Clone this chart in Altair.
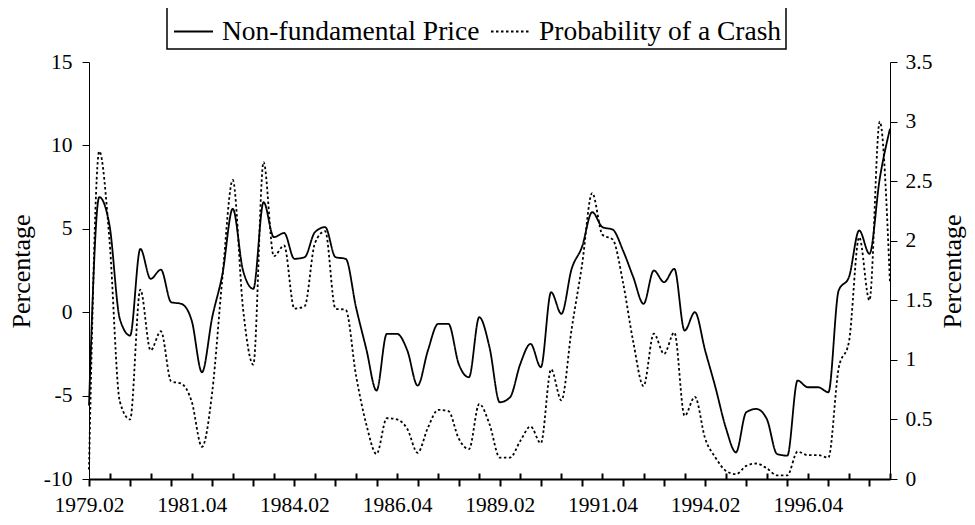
import altair as alt
import pandas as pd

# Quarterly categories 1979.02 ... 1998.04
quarters = [f"{1979 + (i + 1) // 4}.0{(i + 1) % 4 + 1}" for i in range(79)]
tick_labels = ["1979.02", "1981.04", "1984.02", "1986.04",
               "1989.02", "1991.04", "1994.02", "1996.04"]
series_names = ["Non-fundamental Price", "Probability of a Crash"]

price = [-5.6, 6.9, 5.2, -0.4, -1.4, 3.8, 2.0, 2.55, 0.6, 0.5,
         -0.5, -3.6, -0.3, 2.3, 6.2, 2.5, 1.4, 6.6, 4.5, 4.75,
         3.2, 3.3, 4.8, 5.1, 3.3, 3.2, 0.3, -2.2, -4.7, -1.3,
         -1.3, -2.3, -4.4, -2.3, -0.7, -0.7, -3.1, -3.9, -0.3, -2.1,
         -5.4, -5.1, -3.1, -1.9, -3.3, 1.2, -0.1, 2.6, 3.9, 6.0,
         5.1, 4.95, 3.7, 2.1, 0.5, 2.5, 1.8, 2.6, -1.1, 0.0,
         -2.3, -4.5, -6.9, -8.4, -6.0, -5.8, -6.4, -8.5, -8.6, -4.1,
         -4.5, -4.5, -4.8, 1.3, 2.1, 4.9, 3.5, 8.0, 11.0]

prob = [0.08, 2.75, 2.0, 0.65, 0.5, 1.59, 1.08, 1.24, 0.82, 0.8,
        0.65, 0.27, 0.73, 1.7, 2.51, 1.43, 0.96, 2.66, 1.87, 1.96,
        1.43, 1.45, 1.98, 2.08, 1.43, 1.42, 0.87, 0.46, 0.21, 0.51,
        0.5, 0.42, 0.22, 0.43, 0.58, 0.57, 0.34, 0.25, 0.63, 0.46,
        0.18, 0.18, 0.32, 0.44, 0.3, 0.92, 0.66, 1.26, 1.79, 2.4,
        2.05, 2.01, 1.65, 1.15, 0.78, 1.22, 1.05, 1.23, 0.53, 0.69,
        0.34, 0.18, 0.07, 0.04, 0.11, 0.13, 0.09, 0.03, 0.03, 0.23,
        0.2, 0.2, 0.18, 0.93, 1.15, 2.03, 1.5, 3.0, 1.64]

left_ticks = [-10, -5, 0, 5, 10, 15]
right_ticks = [0, 0.5, 1, 1.5, 2, 2.5, 3, 3.5]

n = len(quarters)
idx = list(range(n))
df_price = pd.DataFrame({"idx": idx, "quarter": quarters, "value": price,
                         "series": series_names[0]})
df_prob = pd.DataFrame({"idx": idx, "quarter": quarters, "value": prob,
                        "series": series_names[1]})

FONT = "Liberation Serif, Times New Roman, DejaVu Serif, serif"
W, H = 801, 417

label_idx = [quarters.index(t) for t in tick_labels]
down_idx = idx[0::4]
up_idx = idx[2::4]
bottom_values = sorted(set(down_idx) | set(label_idx))
label_map = "{" + ", ".join(f"'{i}': '{t}'" for i, t in zip(label_idx, tick_labels)) + "}"

x_scale = alt.Scale(domain=[0, n - 1], nice=False, zero=False)

dash_scale = alt.Scale(domain=series_names, range=[[1, 0], [2.5, 2.5]])
legend = alt.Legend(
    title=None, orient="none", legendX=78, legendY=-55, direction="horizontal",
    symbolType="stroke", symbolSize=1521, symbolStrokeWidth=2,
    symbolStrokeColor="black", symbolOffset=2, labelFont=FONT,
    labelFontSize=27.5, labelColor="black", labelLimit=400, labelOffset=8,
    columnPadding=7, padding=4, strokeColor="black",
)

common_axis = dict(grid=False, domainColor="black", tickColor="black",
                   labelColor="black", labelFont=FONT, titleFont=FONT,
                   titleColor="black", titleFontWeight="normal")

price_line = alt.Chart(df_price).mark_line(
    color="black", strokeWidth=1.8, interpolate="monotone"
).encode(
    x=alt.X("idx:Q", scale=x_scale, axis=alt.Axis(
        orient="bottom", values=bottom_values, title=None, labelAngle=0,
        labelExpr=f"{label_map}['' + datum.value] || ''",
        labelFlush=False, labelOverlap=False, labelAlign="center",
        tickSize=7, tickWidth=2, domainWidth=2, labelPadding=8,
        labelFontSize=21.5,
        tickOpacity={"condition": {"test": "datum.value % 4 == 0", "value": 1},
                     "value": 0},
        **common_axis)),
    y=alt.Y("value:Q", scale=alt.Scale(domain=[-10, 15], nice=False, zero=False),
            axis=alt.Axis(orient="left", values=left_ticks, title="Percentage",
                          labelExpr="'' + datum.value", tickSize=7, labelPadding=10,
                          labelFontSize=21.5, titleFontSize=26, titleAngle=270,
                          titleX=-68, titleY=209, titleBaseline="middle",
                          titleAlign="center", labelOverlap=False, **common_axis)),
    strokeDash=alt.StrokeDash("series:N", scale=dash_scale, legend=legend),
)

prob_line = alt.Chart(df_prob).mark_line(
    color="black", strokeWidth=1.8, interpolate="monotone"
).encode(
    x=alt.X("idx:Q", scale=x_scale, axis=alt.Axis(
        orient="top", offset=-H, values=up_idx, title=None, labels=False,
        domain=False, tickSize=6, tickWidth=2, grid=False, tickColor="black")),
    y=alt.Y("value:Q", scale=alt.Scale(domain=[0, 3.5], nice=False, zero=False),
            axis=alt.Axis(orient="right", values=right_ticks, title="Percentage",
                          labelExpr="'' + datum.value", tickSize=7, labelPadding=8,
                          labelFontSize=21.5, titleFontSize=26, titleAngle=270,
                          titleX=62, titleY=209, titleBaseline="middle",
                          titleAlign="center", labelOverlap=False, **common_axis)),
    strokeDash=alt.StrokeDash("series:N", scale=dash_scale, legend=legend),
)

chart = alt.layer(price_line, prob_line).resolve_scale(
    y="independent"
).resolve_axis(
    x="independent", y="independent"
).properties(
    width=W, height=H,
    autosize=alt.AutoSizeParams(type="none"),
    padding={"left": 81, "top": 54, "right": 77, "bottom": 38},
    background="white",
).configure_view(strokeWidth=0).configure_legend(strokeWidth=1.5)

chart.save("out.html", embed_options={"renderer": "svg", "actions": False})
